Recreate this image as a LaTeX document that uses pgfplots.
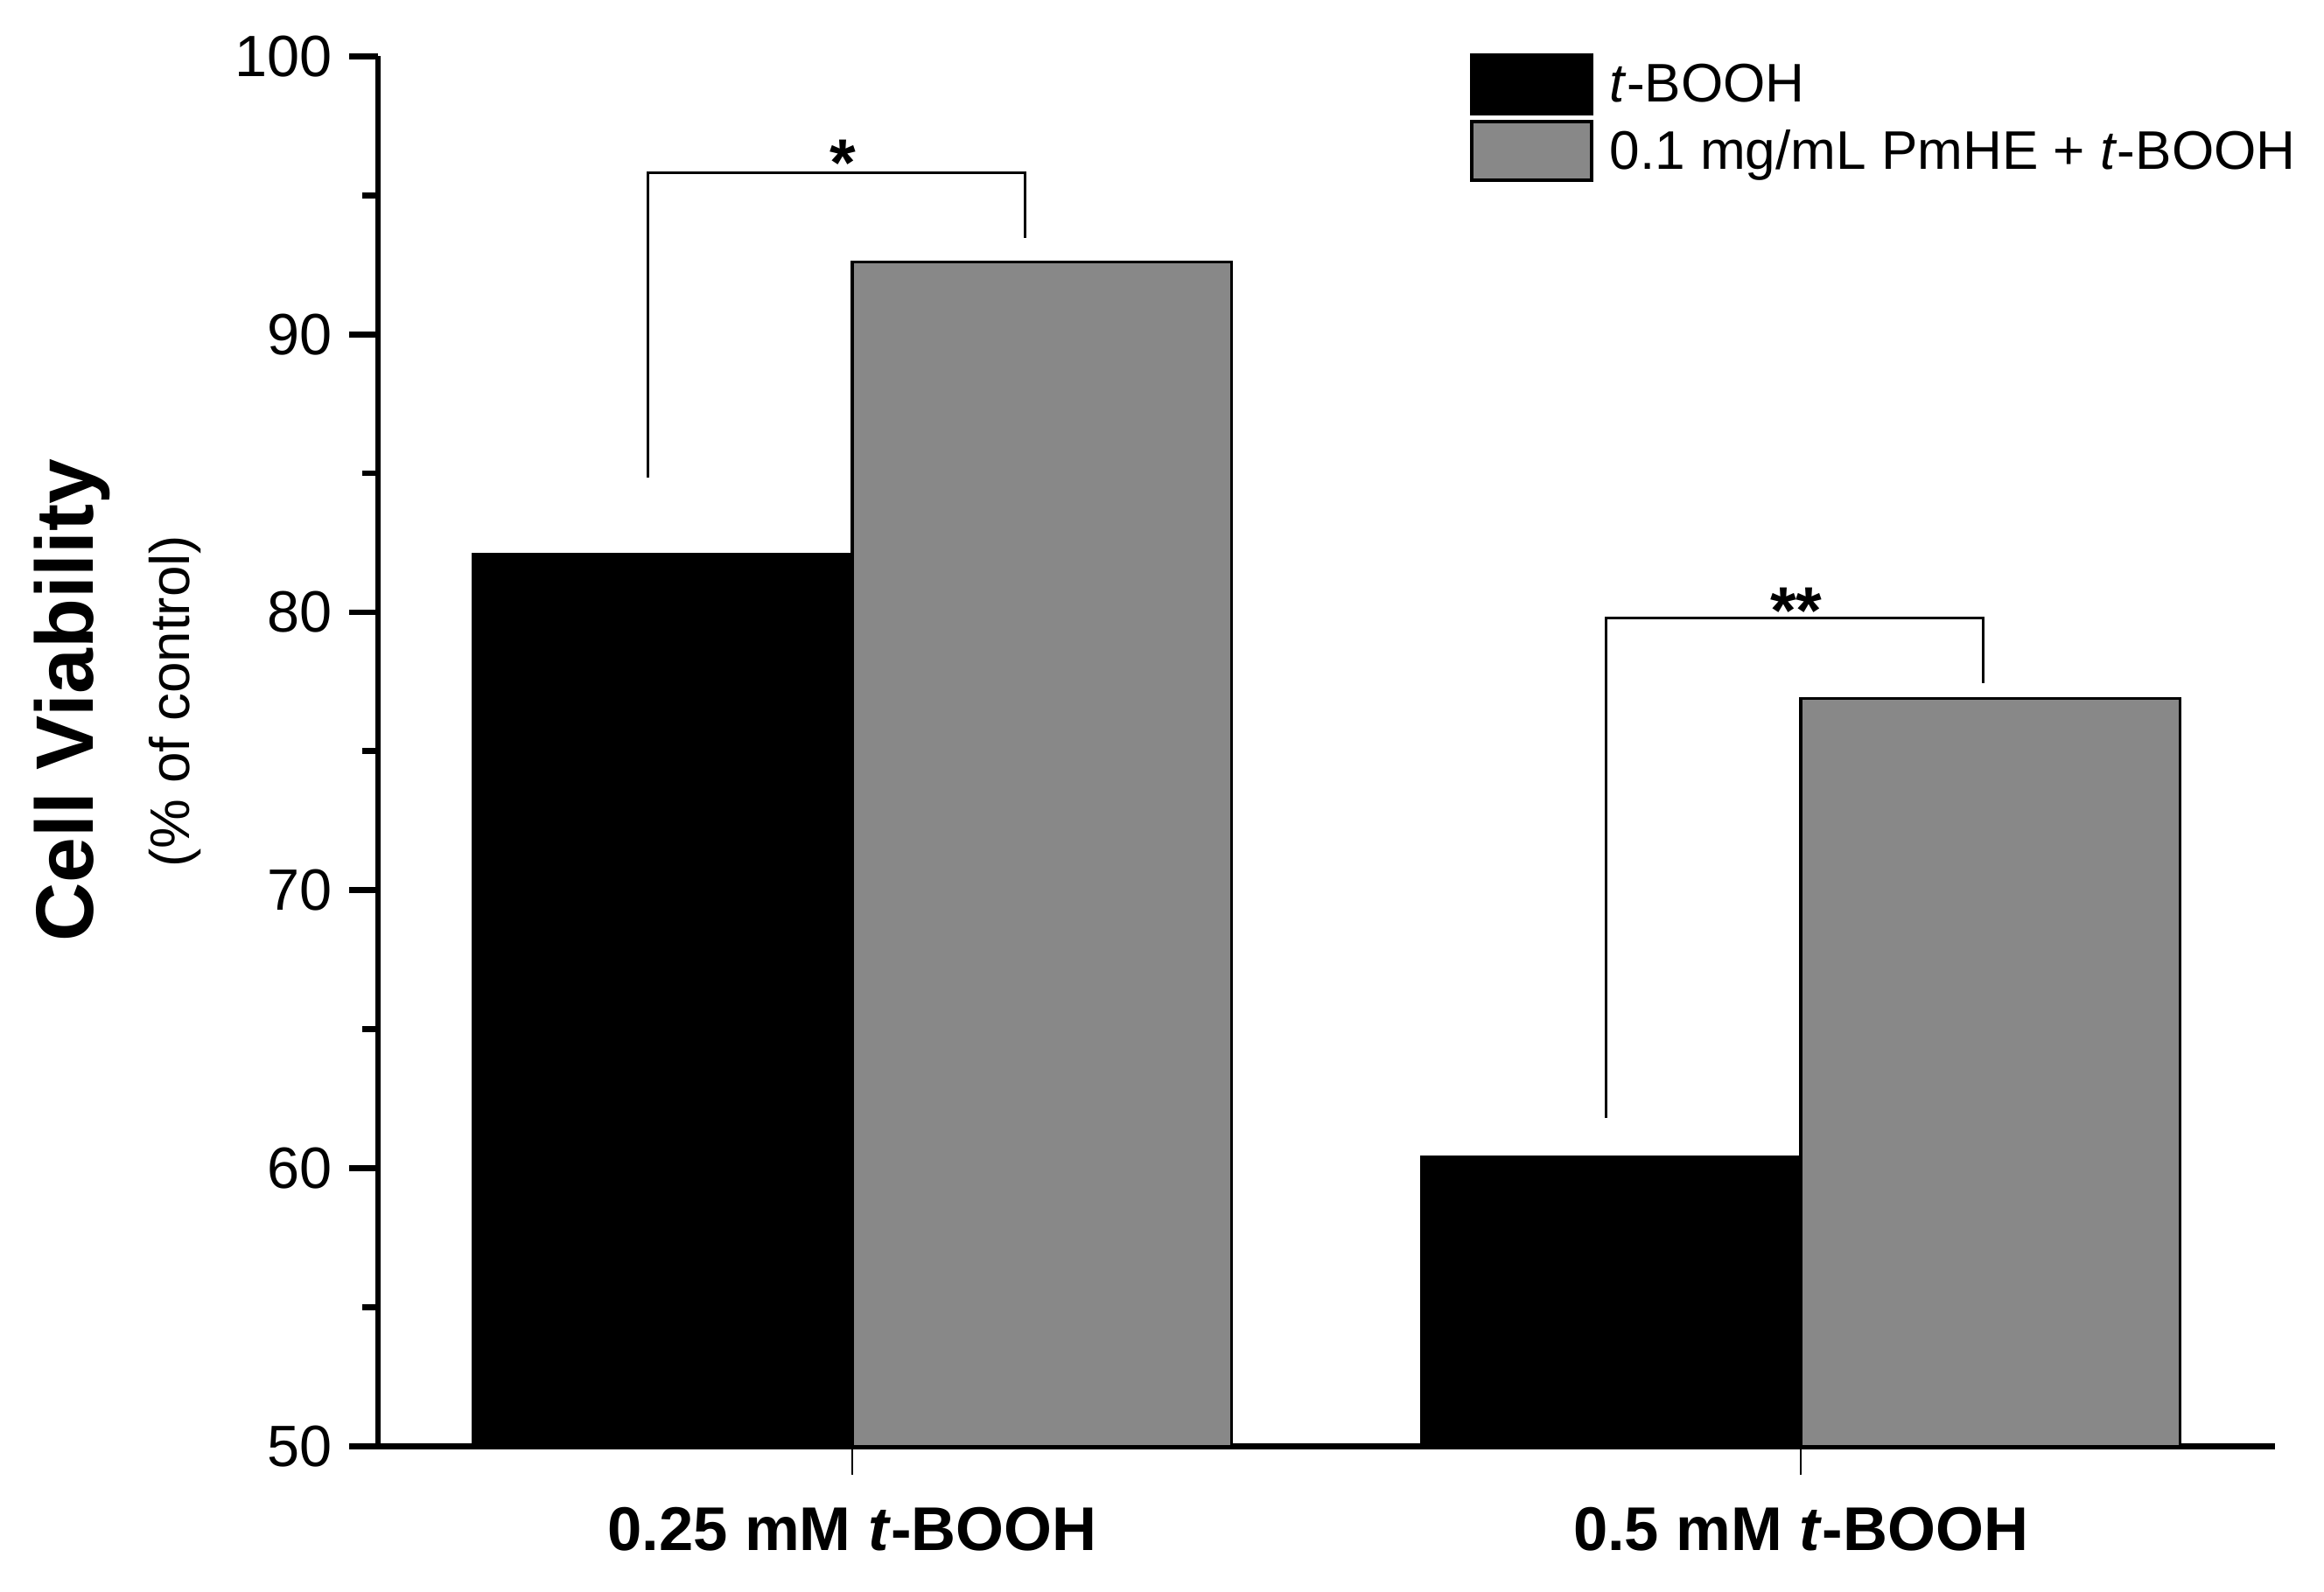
\documentclass[border=0pt]{standalone}
\usepackage{fontspec}
\setmainfont{Liberation Sans}
\usepackage{pgfplots}
\pgfplotsset{compat=1.18}
\definecolor{bargray}{RGB}{136,136,136}
\begin{document}
\begin{tikzpicture}
\useasboundingbox (-76.5pt,-29.4pt) rectangle (393.9pt,292.8pt);
\begin{axis}[
  at={(0,0)}, anchor=south west,
  scale only axis, width=384pt, height=281.4pt,
  xmin=0.5, xmax=2.5, ymin=50, ymax=100,
  axis lines*=left,
  axis line style={line width=1.2pt, black},
  clip mode=individual,
  xtick={1,2},
  xticklabels={0.25 mM \textit{t}-BOOH, 0.5 mM \textit{t}-BOOH},
  ytick={50,60,...,100},
  minor ytick={55,65,...,95},
  tick align=outside,
  major tick length=5.8pt, minor tick length=3.2pt,
  ytick style={line width=1.2pt, black},
  xtick style={line width=0.5pt, black},
  yticklabel style={font=\fontsize{11.8}{14}\selectfont},
  xticklabel style={font=\bfseries\fontsize{12.5}{15}\selectfont, yshift=-3pt},
  /pgf/number format/assume math mode=true,
  legend cell align=left,
  legend style={at={(rel axis cs:0.5758,1)}, anchor=north west, yshift=0.6pt,
    draw=none, fill=none, inner sep=0pt, outer sep=0pt,
    row sep=0.9pt, column sep=3.3pt,
    font=\fontsize{11}{13}\selectfont,
    nodes={inner sep=0pt, text height=9.5pt, text depth=2.3pt}},
  legend image code/.code={\draw[#1, line width=0.7pt] (0.35pt,-5.95pt) rectangle (24.55pt,5.95pt);},
]
\addlegendimage{fill=black, draw=black}
\addlegendentry{\textit{t}-BOOH}
\addlegendimage{fill=bargray, draw=black}
\addlegendentry{0.1 mg/mL PmHE + \textit{t}-BOOH}

\addplot[ybar, bar width=0.4, bar shift=-0.2, fill=black, draw=black, line width=0.6pt, forget plot]
  coordinates {(1,82.1) (2,60.4)};
\addplot[ybar, bar width=0.4, bar shift=0.2, fill=bargray, draw=black, line width=0.6pt, forget plot]
  coordinates {(1,92.6) (2,76.9)};

\addplot[black, line width=0.5pt, forget plot]
  coordinates {(0.785,84.85) (0.785,95.8) (1.182,95.8) (1.182,93.47)};
\addplot[black, line width=0.5pt, forget plot]
  coordinates {(1.795,61.8) (1.795,79.8) (2.1925,79.8) (2.1925,77.45)};

\node[anchor=base, font=\bfseries\fontsize{13.5}{15}\selectfont, inner sep=0pt] at (axis cs:0.990,95.35) {*};
\node[anchor=base, font=\bfseries\fontsize{13.5}{15}\selectfont, inner sep=0pt] at (axis cs:1.995,79.23) {**};

\node[rotate=90, anchor=base, inner sep=0pt, font=\bfseries\fontsize{16.5}{20}\selectfont] at (axis cs:0.1995,76.83) {Cell Viability};
\node[rotate=90, anchor=base, inner sep=0pt, font=\fontsize{11.3}{14}\selectfont] at (axis cs:0.3016,76.8) {(\% of control)};
\end{axis}
\end{tikzpicture}
\end{document}
